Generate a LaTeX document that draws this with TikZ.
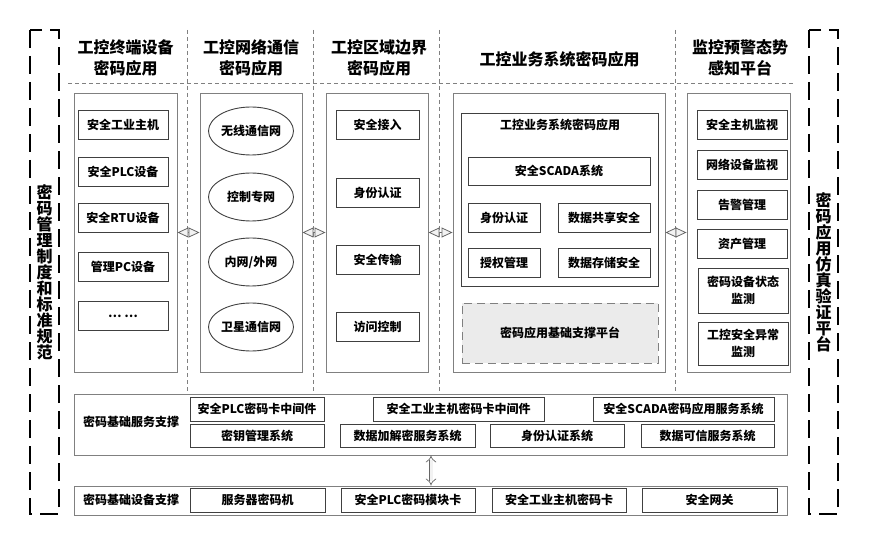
\documentclass[tikz,border=0pt]{standalone}
\usepackage{fontspec}
\setmainfont{Noto Sans CJK SC}
\usetikzlibrary{arrows.meta, positioning, shapes.geometric}
\definecolor{framec}{HTML}{808080}
\definecolor{boxc}{HTML}{404040}
\definecolor{platc}{HTML}{EBEBEB}
\newcommand{\fs}[1]{\fontsize{#1}{#1}\selectfont}
% item box: name, centre, width, height, text
\newcommand{\itembox}[5]{%
  \node[itembox, minimum width=#3, minimum height=#4] (#1) at #2 {#5};
}
\tikzset{
  panel/.style={draw=framec, line width=0.9pt, inner sep=0pt},
  itembox/.style={draw=boxc, line width=0.9pt, inner sep=0pt,
                  align=center, font=\bfseries\fs{12}},
  oval/.style={ellipse, draw=boxc, line width=0.9pt, inner sep=0pt,
               minimum width=85pt, minimum height=48pt, font=\bfseries\fs{12}},
  hdr/.style={font=\bfseries\fs{16}, align=center, inner sep=0pt},
  vtext/.style={font=\bfseries\fs{16}, align=center, inner sep=0pt},
  sep/.style={draw=framec, line width=0.7pt, dash pattern=on 4pt off 3pt},
  bracket/.style={draw=black, line width=2pt, dash pattern=on 18pt off 8pt},
  dblh/.style={draw=black!60, line width=0.8pt,
               {Triangle[fill=black!5, length=11pt, width=10pt]}-{Triangle[fill=black!5, length=11pt, width=10pt]}},
  dblv/.style={draw=black!60, line width=0.7pt, double=black!5, double distance=3pt,
               {Implies}-{Implies}},
}
\begin{document}
\begin{tikzpicture}[x=1pt, y=-1pt]
  \useasboundingbox (0,0) rectangle (870,545);

  % side brackets
  \draw[bracket] (30,30) rectangle (59,514);
  \draw[bracket] (809,30) rectangle (838,514);
  \node[vtext] (lside) at (44.5,272.5)
    {密\\码\\管\\理\\制\\度\\和\\标\\准\\规\\范};
  \node[vtext] (rside) at (823.5,272)
    {密\\码\\应\\用\\仿\\真\\验\\证\\平\\台};

  % column separators
  \foreach \x in {187, 313, 439.5, 675}
    \draw[sep] (\x,30) -- (\x,394);
  \draw[sep] (68,83) -- (793,83);

  % headers
  \node[hdr] (h1) at (125.5,57.5) {工控终端设备\\[5pt]密码应用};
  \node[hdr] (h2) at (251,57.5) {工控网络通信\\[5pt]密码应用};
  \node[hdr] (h3) at (379,57.5) {工控区域边界\\[5pt]密码应用};
  \node[hdr] (h4) at (559.5,59) {工控业务系统密码应用};
  \node[hdr] (h5) at (740,57.5) {监控预警态势\\[5pt]感知平台};

  % column panels
  \foreach \i/\x/\w in {1/125.5/103, 2/251/102, 3/377/102, 4/559/212, 5/738.5/103}
    \node[panel, minimum width=\w, minimum height=279] (p\i) at (\x,232.5) {};

  % terminal devices
  \foreach \i/\y/\t in {1/125/安全工业主机, 2/171.5/安全PLC设备, 3/217.5/安全RTU设备,
                        4/266.5/管理PC设备}
    {\itembox{a\i}{(123,\y)}{90}{29}{\t}}
  \itembox{a5}{(123,316)}{90}{29}{\ldots\ \ldots}

  % networks
  \foreach \i/\y/\t in {1/131/无线通信网, 2/197/控制专网, 3/262/{内网/外网}, 4/327/卫星通信网}
    \node[oval] (n\i) at (251,\y) {\t};

  % boundary
  \foreach \i/\y/\t in {1/125/安全接入, 2/192.5/身份认证, 3/259.5/安全传输, 4/327/访问控制}
    {\itembox{b\i}{(377.5,\y)}{83}{29}{\t}}

  % business systems
  \node[draw=boxc, line width=0.9pt, minimum width=197, minimum height=173, inner sep=0pt]
    (biz) at (559.5,199.5) {};
  \node[font=\bfseries\fs{12}] (biztitle) at (560,125) {工控业务系统密码应用};
  \itembox{scada}{(559,171)}{182}{28}{安全SCADA系统}
  \itembox{c1}{(504,217.5)}{72}{29}{身份认证}
  \itembox{c2}{(604,217.5)}{92}{29}{数据共享安全}
  \itembox{c3}{(504,263)}{72}{29}{授权管理}
  \itembox{c4}{(604,263)}{92}{29}{数据存储安全}
  \node[draw=framec, fill=platc, line width=0.9pt, dash pattern=on 8pt off 5pt,
        minimum width=196, minimum height=60, inner sep=0pt, font=\bfseries\fs{12}]
    (plat) at (560,333) {密码应用基础支撑平台};

  % monitoring
  \foreach \i/\y/\t in {1/125/安全主机监视, 2/164.5/网络设备监视, 3/204.5/告警管理, 4/244/资产管理}
    {\itembox{m\i}{(742,\y)}{90}{29}{\t}}
  \itembox{m5}{(743,290.5)}{90}{45}{密码设备状态\\[5pt]监测}
  \itembox{m6}{(743,343.5)}{90}{43}{工控安全异常\\[5pt]监测}

  % links between columns
  \foreach \i/\j in {1/2, 2/3, 3/4, 4/5}
    \draw[dblh] (p\i.east) -- (p\j.west);

  % basic services
  \node[panel, minimum width=713, minimum height=61] (svc) at (430.5,424.5) {};
  \node[font=\bfseries\fs{12}] (svclbl) at (131,422) {密码基础服务支撑};
  \itembox{s1}{(257,409)}{134}{24}{安全PLC密码卡中间件}
  \itembox{s2}{(458.5,409)}{171}{24}{安全工业主机密码卡中间件}
  \itembox{s3}{(683.5,409)}{181}{24}{安全SCADA密码应用服务系统}
  \itembox{s4}{(257,435.5)}{134}{23}{密钥管理系统}
  \itembox{s5}{(407.5,435.5)}{135}{23}{数据加解密服务系统}
  \itembox{s6}{(557,435.5)}{134}{23}{身份认证系统}
  \itembox{s7}{(707.5,435.5)}{133}{23}{数据可信服务系统}

  % basic devices
  \node[panel, minimum width=713, minimum height=29] (dev) at (430.5,500.5) {};
  \node[font=\bfseries\fs{12}] (devlbl) at (131,500) {密码基础设备支撑};
  \itembox{d1}{(257.5,500)}{135}{24}{服务器密码机}
  \itembox{d2}{(408,500)}{134}{24}{安全PLC密码模块卡}
  \itembox{d3}{(559,500)}{134}{24}{安全工业主机密码卡}
  \itembox{d4}{(709.5,500)}{135}{24}{安全网关}

  \coordinate (va) at (431,470);
  \draw[dblv] (svc.south -| va) -- (dev.north -| va);
\end{tikzpicture}
\end{document}
